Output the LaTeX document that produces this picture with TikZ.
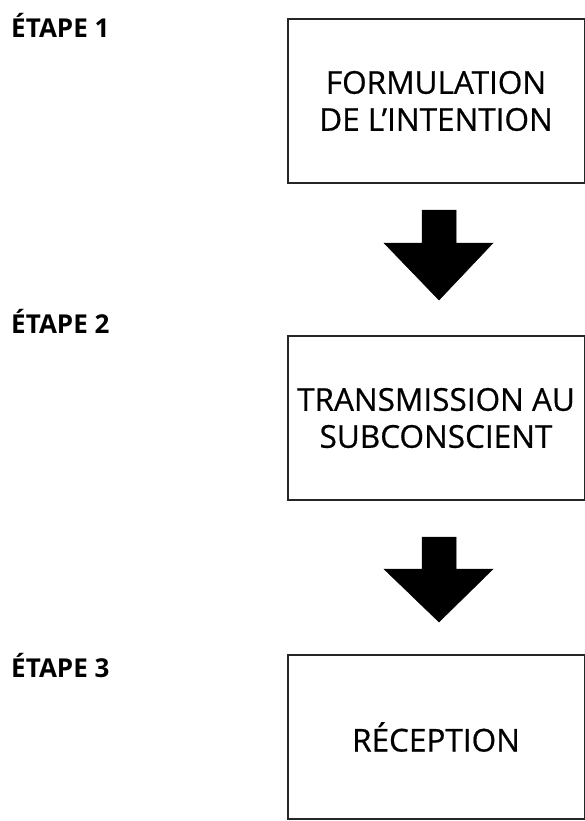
\documentclass[tikz,border=0pt]{standalone}
\usepackage{fontspec}
\setmainfont{Open Sans}
\newfontfamily\boitefont{Open Sans}[FakeBold=0.6]

\tikzset{
	boite/.style={draw=black!85, line width=2pt, minimum width=297pt,
		minimum height=164pt, align=center, inner sep=0pt,
		font=\boitefont\fontsize{31.5}{37}\selectfont},
	etape/.style={anchor=base west, inner sep=0pt,
		font=\fontsize{26}{28}\selectfont\bfseries},
	fleche/.style={fill=black, draw=black, line width=0.5pt}
}

\begin{document}
\begin{tikzpicture}[x=1pt, y=-1pt]
	\useasboundingbox (0,0) rectangle (585,821);

	\node[etape] (etape1) at (11, 38) {ÉTAPE 1};
	\node[etape] (etape2) at (11, 333) {ÉTAPE 2};
	\node[etape] (etape3) at (11, 677) {ÉTAPE 3};

	\node[boite] (formulation) at (436, 101) {FORMULATION\\DE L’INTENTION};
	\node[boite] (transmission) at (436, 418) {TRANSMISSION AU\\SUBCONSCIENT};
	\node[boite] (reception) at (436, 737) {RÉCEPTION};

	% fleches pleines entre les etapes
	\filldraw[fleche] (422, 210) -- (456, 210) -- (456, 243)
		-- (493, 243) -- (439, 300) -- (384, 243)
		-- (422, 243) -- cycle;

	\filldraw[fleche] (422, 537) -- (456, 537) -- (456, 569)
		-- (493, 569) -- (439, 622) -- (384, 569)
		-- (422, 569) -- cycle;
\end{tikzpicture}
\end{document}
